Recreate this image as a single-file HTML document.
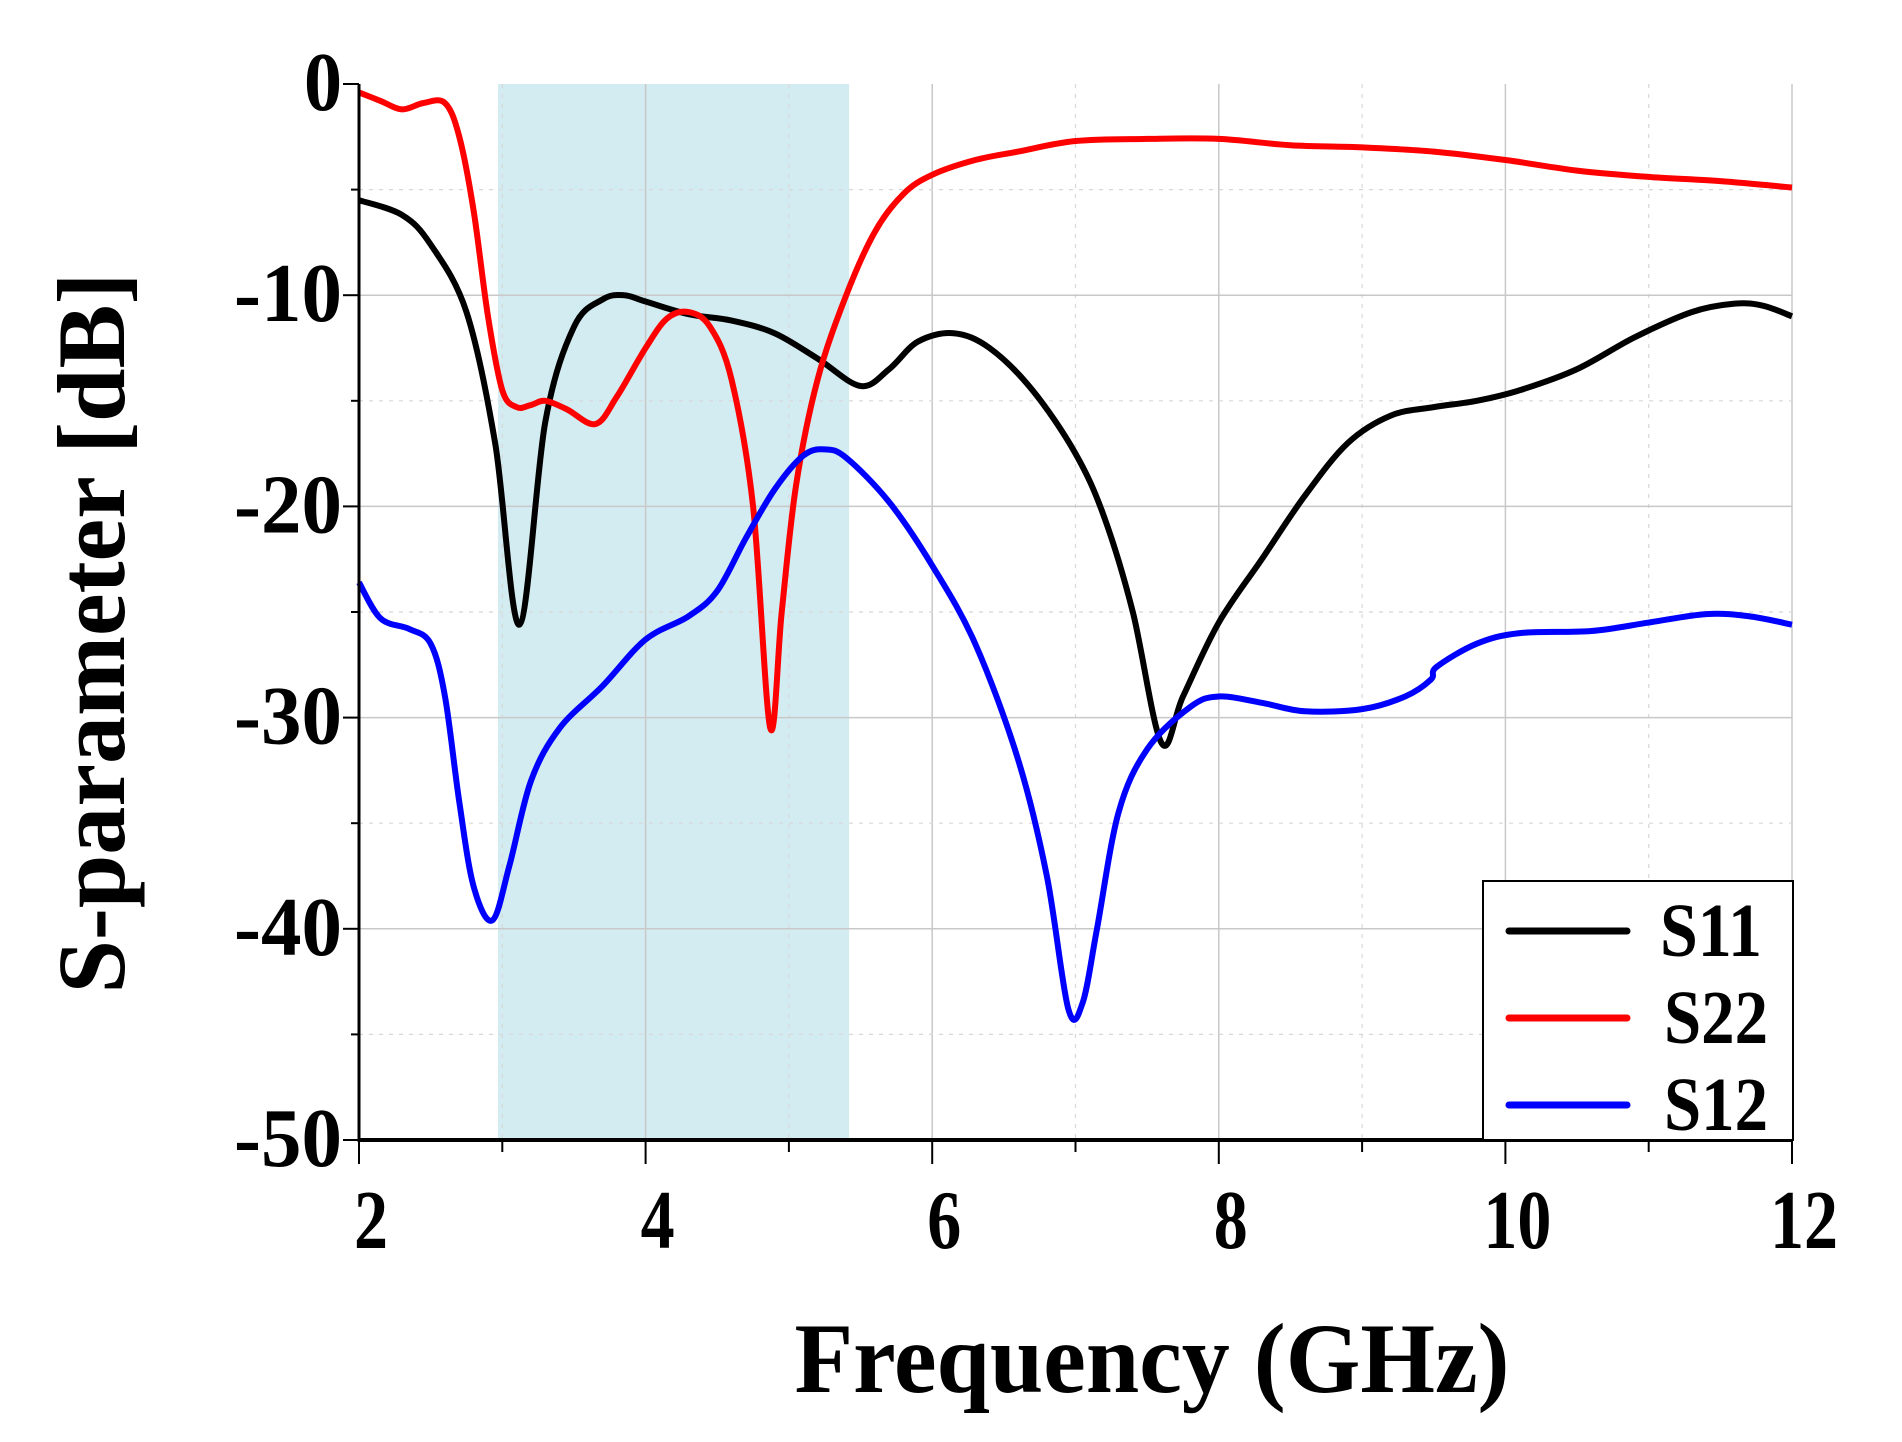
<!DOCTYPE html>
<html><head><meta charset="utf-8"><style>
html,body{margin:0;padding:0;background:#fff;}
svg{display:block;}
text{font-family:"Liberation Serif",serif;font-weight:bold;fill:#000;}
</style></head><body>
<svg id="chart" width="1902" height="1442" viewBox="0 0 1902 1442" xmlns="http://www.w3.org/2000/svg">
<g id="band"></g>
<g id="grid"></g>
<g id="series"></g>
<g id="axes"></g>
<text x="1152" y="1392" font-size="100" text-anchor="middle" textLength="715" lengthAdjust="spacingAndGlyphs">Frequency (GHz)</text>
<text transform="translate(124,633) rotate(-90)" font-size="96" text-anchor="middle" textLength="721" lengthAdjust="spacingAndGlyphs">S-parameter [dB]</text>
<g>
<rect x="1483" y="881" width="310" height="259" fill="#fff" stroke="#000" stroke-width="2"/>
<line x1="1509" y1="931" x2="1627" y2="931" stroke="#000" stroke-width="7" stroke-linecap="round"/>
<text x="1660" y="956" font-size="76" textLength="102" lengthAdjust="spacingAndGlyphs">S11</text>
<line x1="1509" y1="1018" x2="1627" y2="1018" stroke="#f00" stroke-width="7" stroke-linecap="round"/>
<text x="1664" y="1043" font-size="76" textLength="104" lengthAdjust="spacingAndGlyphs">S22</text>
<line x1="1509" y1="1105" x2="1627" y2="1105" stroke="#00f" stroke-width="7" stroke-linecap="round"/>
<text x="1664" y="1130" font-size="76" textLength="104" lengthAdjust="spacingAndGlyphs">S12</text>
</g>
</svg>
<script>
const xTicks=[2,4,6,8,10,12];
const yTicks=[0,-10,-20,-30,-40,-50];
const band=[2.97,5.42];
const s11F=[2.0,2.3,2.5,2.75,2.95,3.12,3.3,3.5,3.7,3.85,4.0,4.3,4.6,4.9,5.2,5.5,5.7,5.9,6.15,6.4,6.7,7.0,7.2,7.4,7.6,7.75,8.0,8.3,8.6,8.9,9.2,9.5,9.8,10.1,10.5,10.9,11.3,11.6,11.8,12.0];
const s11V=[-5.5,-6.2,-7.6,-10.8,-17,-25.6,-16,-11.5,-10.2,-10.0,-10.3,-10.9,-11.2,-11.8,-13,-14.3,-13.5,-12.2,-11.8,-12.5,-14.5,-17.5,-20.5,-25,-31.2,-29,-25.5,-22.5,-19.5,-17,-15.7,-15.3,-15,-14.5,-13.5,-12,-10.8,-10.4,-10.5,-11];
const s22F=[2.0,2.15,2.3,2.45,2.6,2.7,2.8,2.9,3.0,3.1,3.2,3.3,3.45,3.65,3.8,4.0,4.15,4.3,4.45,4.6,4.75,4.87,4.95,5.05,5.2,5.4,5.6,5.8,6.0,6.3,6.6,7.0,7.5,8.0,8.5,9.0,9.5,10.0,10.5,11.0,11.5,12.0];
const s22V=[-0.4,-0.8,-1.2,-0.9,-0.9,-2.5,-6,-11,-14.5,-15.3,-15.2,-15,-15.4,-16.1,-14.8,-12.5,-11.1,-10.8,-11.5,-14,-20,-30.5,-25,-19,-14,-10,-7,-5.2,-4.3,-3.6,-3.2,-2.7,-2.6,-2.6,-2.9,-3.0,-3.2,-3.6,-4.1,-4.4,-4.6,-4.9];
const s12F=[2.0,2.15,2.35,2.5,2.6,2.7,2.8,2.93,3.05,3.2,3.4,3.7,4.0,4.3,4.5,4.7,4.9,5.1,5.25,5.4,5.7,6.0,6.3,6.6,6.8,6.95,7.05,7.15,7.3,7.5,7.8,8.0,8.3,8.6,9.0,9.3,9.48,9.52,9.8,10.1,10.6,11.0,11.4,11.7,12.0];
const s12V=[-23.6,-25.3,-25.8,-26.5,-29,-34,-38,-39.6,-37,-33,-30.5,-28.5,-26.3,-25.2,-24,-21.5,-19.2,-17.6,-17.3,-17.7,-19.8,-22.8,-26.5,-32,-37.5,-43.8,-43.5,-40,-34.5,-31.5,-29.5,-29,-29.3,-29.7,-29.6,-29.0,-28.2,-27.6,-26.5,-26,-25.9,-25.5,-25.1,-25.2,-25.6];

const X0=359,X1=1792,Y0=84,Y1=1140;
const xs=f=>X0+(f-2)/10*(X1-X0);
const ys=v=>Y0+(-v)/50*(Y1-Y0);
const NS='http://www.w3.org/2000/svg';
function mk(parent,tag,attrs){const e=document.createElementNS(NS,tag);for(const k in attrs)e.setAttribute(k,attrs[k]);parent.appendChild(e);return e;}

const gb=document.getElementById('band');
const br=mk(gb,'rect',{x:xs(band[0]),y:Y0,width:xs(band[1])-xs(band[0]),height:Y1-Y0,fill:'#d3ecf1'});



const gg=document.getElementById('grid');
for(let f=3;f<=12;f++){
  const major=(f%2===0);
  const l=mk(gg,'line',{x1:xs(f),y1:Y0,x2:xs(f),y2:Y1,stroke:major?'#c8c8c8':'#d8d8d8','stroke-width':major?1.5:1.2,'stroke-dasharray':major?'none':'4 6'});
  
  
}
for(let v=-5;v>=-45;v-=5){
  const major=(v%10===0);
  const l=mk(gg,'line',{x1:X0,y1:ys(v),x2:X1,y2:ys(v),stroke:major?'#c8c8c8':'#d8d8d8','stroke-width':major?1.5:1.2,'stroke-dasharray':major?'none':'4 6'});
  
  
}

function path(F,V){
  const p=F.map((f,i)=>[xs(f),ys(V[i])]);
  let d='M'+p[0][0]+','+p[0][1];
  for(let i=0;i<p.length-1;i++){
    const p0=p[i-1]||p[i],p1=p[i],p2=p[i+1],p3=p[i+2]||p2;
    const t=6;
    d+=' C'+(p1[0]+(p2[0]-p0[0])/t)+','+(p1[1]+(p2[1]-p0[1])/t)+' '+(p2[0]-(p3[0]-p1[0])/t)+','+(p2[1]-(p3[1]-p1[1])/t)+' '+p2[0]+','+p2[1];
  }
  return d;
}
const gs=document.getElementById('series');
const p11=mk(gs,'path',{d:path(s11F,s11V),fill:'none',stroke:'#000','stroke-width':6,'stroke-linejoin':'round'});


const p22=mk(gs,'path',{d:path(s22F,s22V),fill:'none',stroke:'#f00','stroke-width':6,'stroke-linejoin':'round'});


const p12=mk(gs,'path',{d:path(s12F,s12V),fill:'none',stroke:'#00f','stroke-width':6,'stroke-linejoin':'round'});



const ga=document.getElementById('axes');
const ya=mk(ga,'line',{x1:X0,y1:Y0,x2:X0,y2:Y1+2,stroke:'#000','stroke-width':3});


const xa=mk(ga,'line',{x1:X0-1,y1:Y1,x2:X1+1,y2:Y1,stroke:'#000','stroke-width':4});


for(let f=2;f<=12;f++){
  const major=(f%2===0);
  const t=mk(ga,'line',{x1:xs(f),y1:Y1,x2:xs(f),y2:Y1+(major?24:12),stroke:'#000','stroke-width':2});
  
  
}
for(let v=0;v>=-50;v-=5){
  const major=(v%10===0);
  const t=mk(ga,'line',{x1:X0-(major?16:8),y1:ys(v),x2:X0,y2:ys(v),stroke:'#000','stroke-width':2});
  
  
}
xTicks.forEach(f=>{
  const s=String(f);
  const t=mk(ga,'text',{x:xs(f)+12,y:1248,'font-size':84,'text-anchor':'middle',textLength:s.length*34,lengthAdjust:'spacingAndGlyphs'});
  t.textContent=s;
  
  
});
yTicks.forEach(v=>{
  const s=String(v);
  const t=mk(ga,'text',{x:342,y:ys(v)+26,'font-size':84,'text-anchor':'end',textLength:s==='0'?38:108,lengthAdjust:'spacingAndGlyphs'});
  t.textContent=s;
  
  
});
</script>
</body></html>
